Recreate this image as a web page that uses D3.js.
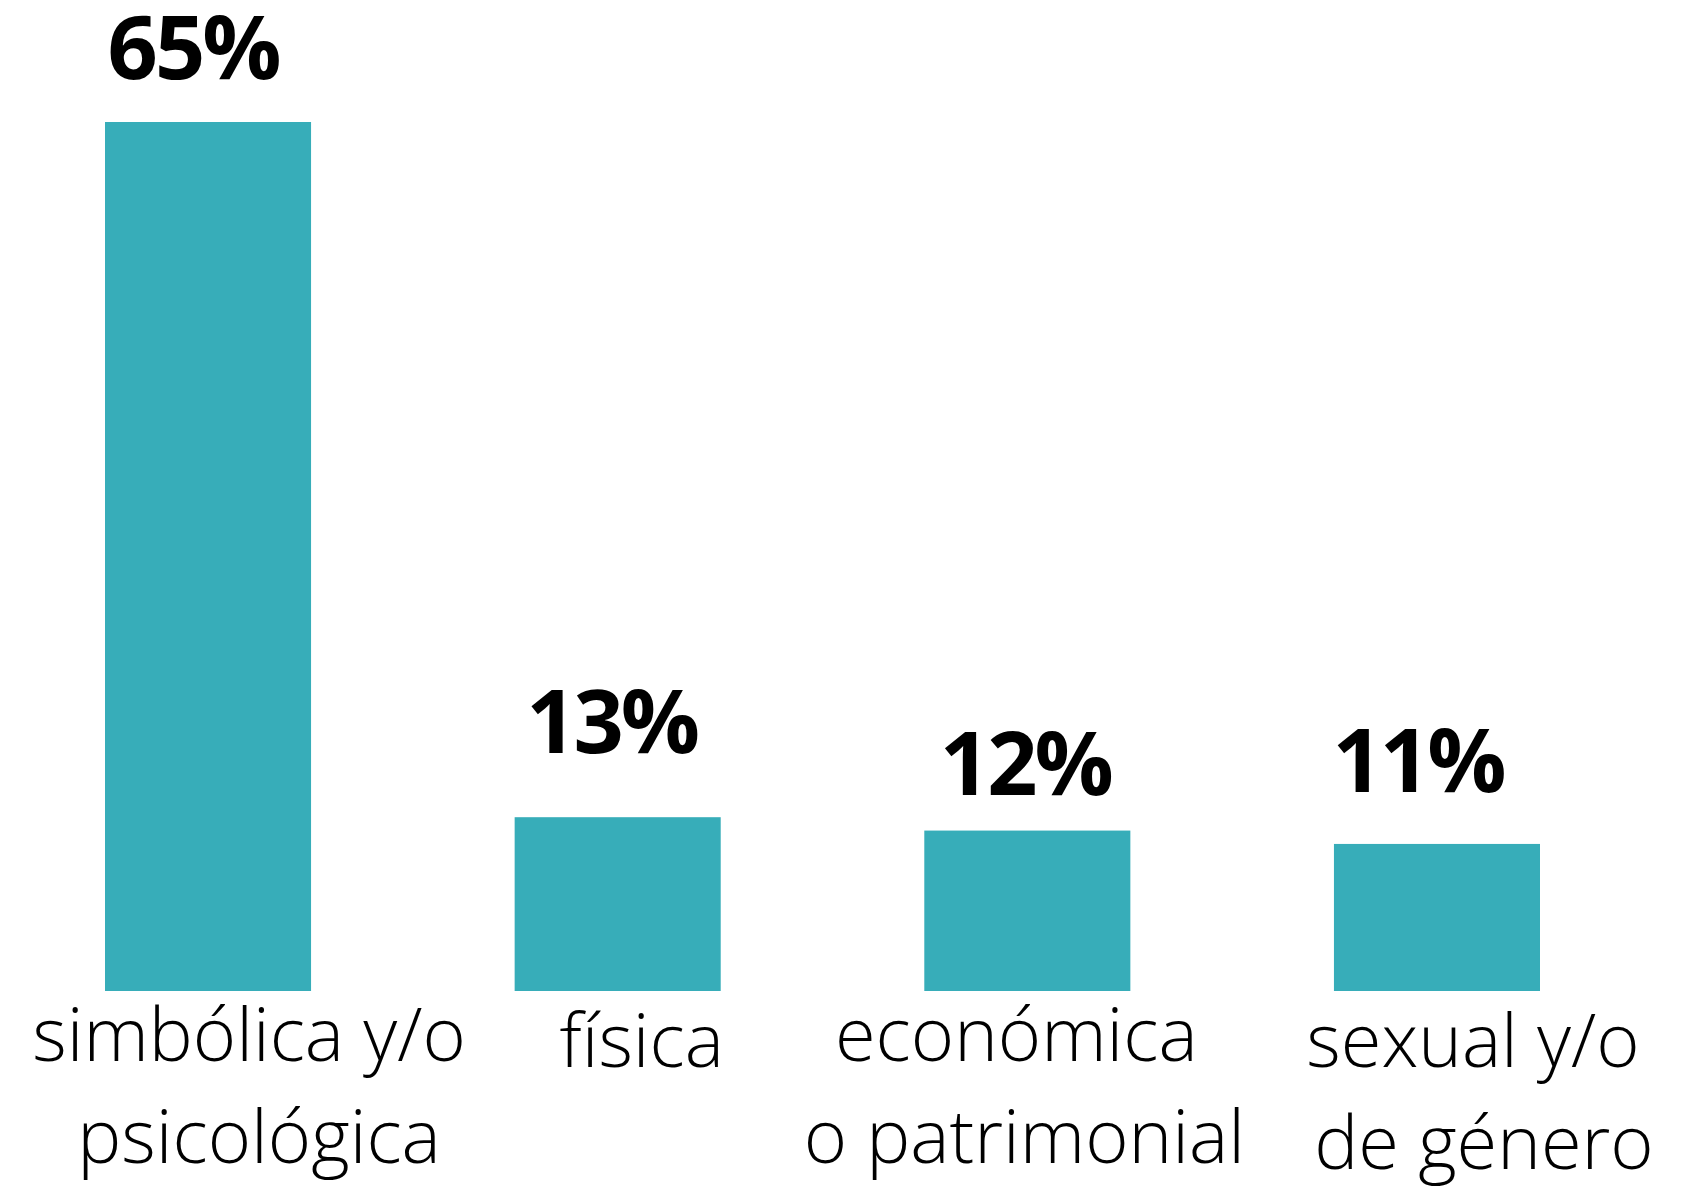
<!DOCTYPE html>
<html>

<head>
    <title>Tipos de violencia</title>
    <script type="text/javascript" src="https://d3js.org/d3.v7.min.js"></script>
    <style>
        body { margin: 0; background: #fff; }
    </style>
</head>

<body>
    <svg id="chart" width="1682" height="1187"></svg>

    <script>
        // data
        var categories = ["simbólica y/o psicológica", "física", "económica o patrimonial", "sexual y/o de género"];
        var values = [65, 13, 12, 11];
        var labelLines = [["simbólica y/o", "psicológica"], ["física"], ["económica", "o patrimonial"], ["sexual y/o", "de género"]];

        // hand placement of the text, as in the original
        var lineShift = [[41, 51], [24], [-11, -3], [36, 47]]; // horizontal shift of each label line
        var catDrop = [0, 6, 0, 6];         // extra drop of category labels
        var valShift = [-15, -6, -2, -19];  // horizontal shift of value labels
        var valGap = [43, 64, 36, 52];      // space between bar top and value baseline

        var width = 1682, height = 1187;
        var svg = d3.select("#chart");

        var x = d3.scaleBand()
            .domain(categories)
            .range([105, 1540])
            .paddingInner(0.497)
            .paddingOuter(0);

        var y = d3.scaleLinear()
            .domain([0, 65])
            .range([991, 122]);

        // bars
        svg.selectAll("rect.bar")
            .data(values)
            .enter().append("rect")
            .attr("class", "bar")
            .attr("x", (d, i) => x(categories[i]))
            .attr("y", d => y(d))
            .attr("width", x.bandwidth())
            .attr("height", d => y(0) - y(d))
            .attr("fill", "#37adb9");

        // value labels
        svg.selectAll("text.val")
            .data(values)
            .enter().append("text")
            .attr("class", "val")
            .attr("x", (d, i) => x(categories[i]) + x.bandwidth() / 2 + valShift[i])
            .attr("y", (d, i) => y(d) - valGap[i])
            .attr("text-anchor", "middle")
            .style("font-family", "'Open Sans', sans-serif")
            .style("font-weight", 700)
            .style("font-size", "88px")
            .style("letter-spacing", "-3px")
            .attr("fill", "#000")
            .text(d => d + "%");

        // category labels
        var cat = svg.selectAll("text.cat")
            .data(categories)
            .enter().append("text")
            .attr("class", "cat")
            .attr("transform", (d, i) => "translate(" + (x(d) + x.bandwidth() / 2) + "," + (1061 + catDrop[i]) + ")")
            .attr("text-anchor", "middle")
            .style("font-family", "'Open Sans', sans-serif")
            .style("font-weight", 300)
            .style("font-size", "74px")
            .attr("fill", "#000");

        cat.selectAll("tspan")
            .data((d, i) => labelLines[i].map((t, j) => ({ text: t, dx: lineShift[i][j] })))
            .enter().append("tspan")
            .attr("x", d => d.dx)
            .attr("y", (d, j) => j * 102)
            .text(d => d.text);
    </script>
</body>

</html>
